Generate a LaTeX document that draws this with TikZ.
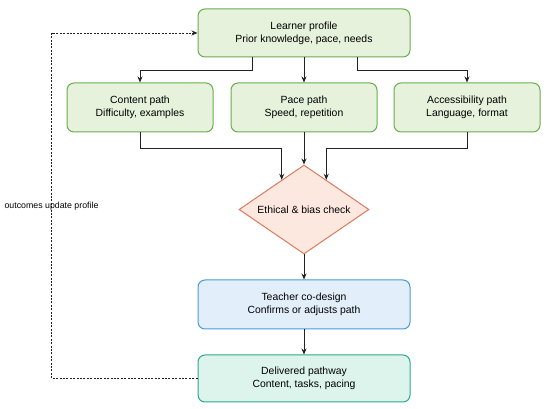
\documentclass[tikz,border=0pt]{standalone}
\usepackage{fontspec}
\setmainfont{Liberation Sans}
\usetikzlibrary{arrows.meta, positioning, shapes.geometric, calc}

\definecolor{pathfill}{HTML}{E6F2DC}
\definecolor{pathdraw}{HTML}{6AAC4E}
\definecolor{checkfill}{HTML}{FCE8DF}
\definecolor{checkdraw}{HTML}{DD7A5E}
\definecolor{teachfill}{HTML}{E2EFFB}
\definecolor{teachdraw}{HTML}{4A9BD4}
\definecolor{delivfill}{HTML}{DCF4EC}
\definecolor{delivdraw}{HTML}{2EA88A}
\definecolor{linegray}{HTML}{222222}

\begin{document}
\begin{tikzpicture}[
    x=1pt, y=1pt,
    font=\fontsize{10.4}{13}\selectfont,
    box/.style={draw, line width=1pt, rounded corners=7pt, align=center, inner sep=0pt},
    profile/.style={box, draw=pathdraw, fill=pathfill, minimum width=212pt, minimum height=48pt},
    pathbox/.style={box, draw=pathdraw, fill=pathfill, minimum width=146pt, minimum height=49pt},
    check/.style={diamond, draw=checkdraw, fill=checkfill, line width=1pt, inner sep=0pt, aspect=1.46, minimum width=130pt, minimum height=89pt},
    teacher/.style={box, draw=teachdraw, fill=teachfill, minimum width=212pt, minimum height=49pt},
    delivered/.style={box, draw=delivdraw, fill=delivfill, minimum width=212pt, minimum height=47pt},
    flow/.style={-{Stealth[length=6pt, width=5pt]}, draw=linegray, line width=0.9pt},
    feedback/.style={-{Stealth[length=6pt, width=5pt]}, draw=linegray, line width=0.9pt, dash pattern=on 2pt off 1.4pt}
]
    \useasboundingbox (0,0) rectangle (550,409);

    \node[profile] (learner) at (304,376) {Learner profile\\Prior knowledge, pace, needs};
    \node[pathbox, below=25pt of learner] (pace) {Pace path\\Speed, repetition};
    \node[pathbox, left=17pt of pace] (content) {Content path\\Difficulty, examples};
    \node[pathbox, right=16pt of pace] (access) {Accessibility path\\Language, format};
    \node[check, below=32pt of pace] (ethics) {Ethical \& bias check};
    \node[teacher, below=25pt of ethics] (codesign) {Teacher co-design\\Confirms or adjusts path};
    \node[delivered, below=25pt of codesign] (pathway) {Delivered pathway\\Content, tasks, pacing};

    % profile feeds the three paths
    \draw[flow] ([xshift=-52pt]learner.south) -- ++(0,-13pt) -| (content.north);
    \draw[flow] (learner.south) -- (pace.north);
    \draw[flow] ([xshift=53pt]learner.south) -- ++(0,-13pt) -| (access.north);

    % paths merge into the check
    \draw[flow] (content.south) -- ++(0,-16pt) -| ($(ethics.north)!0.34!(ethics.west)$);
    \draw[flow] (pace.south) -- (ethics.north);
    \draw[flow] (access.south) -- ++(0,-16pt) -| ($(ethics.north)!0.34!(ethics.east)$);

    \draw[flow] (ethics.south) -- (codesign.north);
    \draw[flow] (codesign.south) -- (pathway.north);

    % loop back
    \draw[feedback] (pathway.west) -- ++(-146pt,0) |- (learner.west)
        node[pos=0.25, font=\fontsize{8.8}{10}\selectfont] {outcomes update profile};
\end{tikzpicture}
\end{document}
